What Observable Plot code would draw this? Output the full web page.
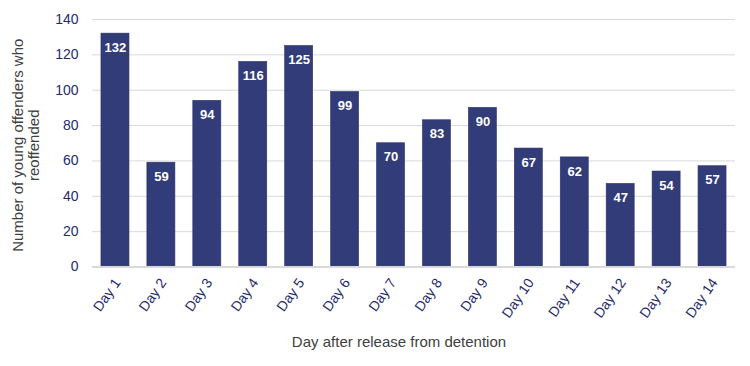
<!DOCTYPE html>
<html>
<head>
<meta charset="utf-8">
<script src="https://cdn.jsdelivr.net/npm/d3@7"></script>
<script src="https://cdn.jsdelivr.net/npm/@observablehq/plot@0.6"></script>
<style>
  html, body { margin: 0; padding: 0; background: #fff; }
  #chart svg { display: block; }
</style>
</head>
<body>
<div id="chart"></div>
<script>
const days = ["Day 1","Day 2","Day 3","Day 4","Day 5","Day 6","Day 7","Day 8","Day 9","Day 10","Day 11","Day 12","Day 13","Day 14"];
const counts = [132, 59, 94, 116, 125, 99, 70, 83, 90, 67, 62, 47, 54, 57];
const yTicks = [0, 20, 40, 60, 80, 100, 120, 140];
const xTitle = "Day after release from detention";
const yTitle = "Number of young offenders who\nreoffended";

const data = days.map((d, i) => ({day: d, value: counts[i]}));

const navy = "#323c78";
const tickColor = "#1f2a6b";
const font = "'Liberation Sans', Arial, sans-serif";

const chart = Plot.plot({
  width: 750,
  height: 366,
  marginLeft: 92,
  marginRight: 15,
  marginTop: 19,
  marginBottom: 99.5,
  style: {fontFamily: font, fontSize: "14px", background: "#fff", overflow: "visible"},
  x: {domain: days, paddingInner: 0.39, paddingOuter: 0.195, align: 0.5, round: false},
  y: {domain: [0, 140]},
  marks: [
    Plot.gridY(yTicks, {stroke: "#d9d9d9", strokeOpacity: 1, strokeWidth: 1}),
    Plot.barY(data, {x: "day", y: "value", fill: navy, stroke: "#2a3370", strokeWidth: 0.6}),
    Plot.ruleY([0], {stroke: "#d9d9d9", strokeWidth: 2}),
    Plot.text(data, {x: "day", y: "value", text: d => String(d.value), fill: "#fff", dy: 14, fontSize: 13, fontWeight: "bold"}),
    Plot.axisY(yTicks, {tickSize: 0, tickPadding: 14, label: null, fill: tickColor, fontSize: 14}),
    Plot.axisX({tickSize: 0, tickPadding: 13, dx: 2, tickRotate: -55, label: null, fill: tickColor, fontSize: 14}),
    Plot.text([xTitle], {frameAnchor: "bottom", dy: 79.5, dx: -15, fill: "#404040", fontSize: 15}),
    Plot.text([yTitle], {frameAnchor: "left", textAnchor: "middle", lineAnchor: "middle", dx: -67, dy: 2, rotate: -90, fill: "#404040", fontSize: 15, lineHeight: 1.1})
  ]
});
document.getElementById("chart").appendChild(chart);
</script>
</body>
</html>
